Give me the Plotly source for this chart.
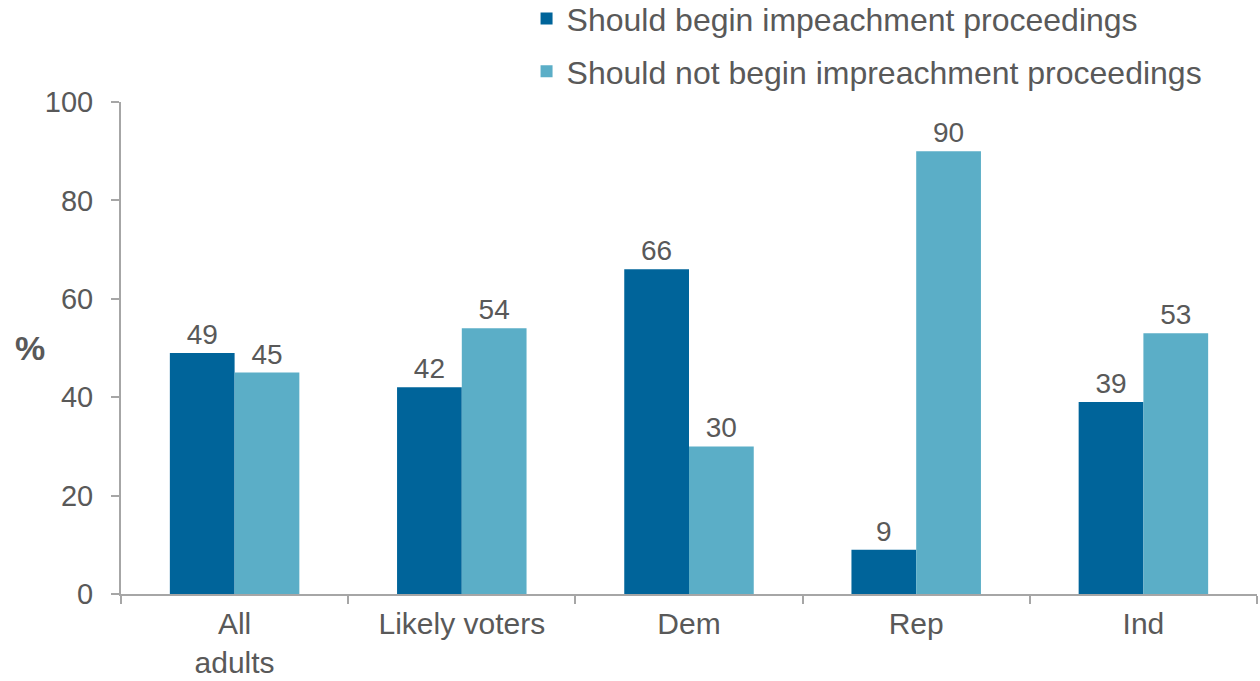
import plotly.graph_objects as go

categories = ["All<br>adults", "Likely voters", "Dem", "Rep", "Ind"]
begin_vals = [49, 42, 66, 9, 39]
not_begin_vals = [45, 54, 30, 90, 53]
series_names = ["Should begin impeachment proceedings", "Should not begin impreachment proceedings"]
y_ticks = [0, 20, 40, 60, 80, 100]

dark = "#00649A"
light = "#5BAEC7"
grey = "#595959"
axis_grey = "#A6A6A6"
font_family = "Liberation Sans, Arial, sans-serif"

fig = go.Figure()
for i, (name, vals, col) in enumerate([(series_names[0], begin_vals, dark), (series_names[1], not_begin_vals, light)]):
    fig.add_trace(go.Bar(
        x=categories, y=vals, name=name, marker=dict(color=col, line=dict(width=0)),
        text=[str(v) for v in vals], textposition="outside",
        textfont=dict(size=28, color=grey, family=font_family),
        cliponaxis=False, legendgroup=f"g{i}",
    ))

fig.update_layout(
    width=1260, height=681,
    margin=dict(l=121, r=3, t=102, b=87, autoexpand=False),
    paper_bgcolor="white", plot_bgcolor="white",
    barmode="group", bargap=0.43, bargroupgap=0,
    font=dict(family=font_family, color=grey, size=28),
    showlegend=True,
    legend=dict(
        x=0.357, y=1.225, xanchor="left", yanchor="top", yref="paper",
        font=dict(size=32, color=grey, family=font_family),
        bgcolor="rgba(0,0,0,0)", itemwidth=30, tracegroupgap=8,
        traceorder="grouped",
    ),
)
fig.update_xaxes(
    showline=True, linecolor=axis_grey, linewidth=2, automargin=False,
    ticks="outside", tickson="boundaries", ticklen=8, tickcolor=axis_grey, tickwidth=2,
    tickfont=dict(size=30, color=grey, family=font_family), ticklabelstandoff=2,
    showgrid=False,
)
fig.update_yaxes(
    range=[0, 100], tickvals=y_ticks, showline=True, linecolor=axis_grey, linewidth=2,
    ticks="outside", ticklen=8, tickcolor=axis_grey, tickwidth=2, automargin=False,
    tickfont=dict(size=29, color=grey, family=font_family), ticklabelstandoff=12,
    showgrid=False, zeroline=False,
)
fig.add_annotation(
    text="<b>%</b>", xref="paper", yref="paper", x=-0.08, y=0.5,
    xanchor="center", yanchor="middle", showarrow=False,
    font=dict(size=34, color=grey, family=font_family),
)
fig.write_html("out.html", config={"displayModeBar": False},
               post_script="document.body.style.margin='0';")
